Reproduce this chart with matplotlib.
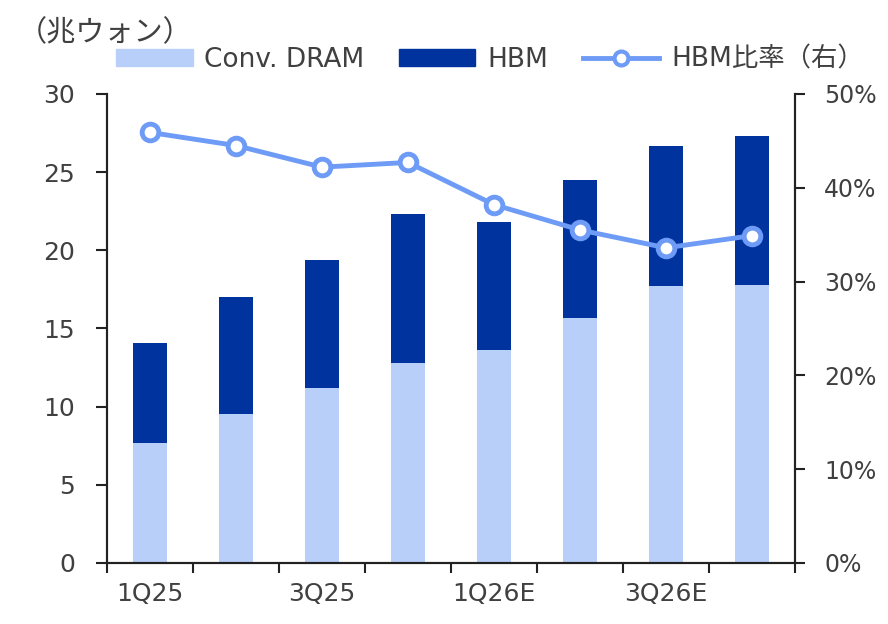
import numpy as np
import matplotlib.pyplot as plt
from matplotlib.lines import Line2D
from matplotlib.patches import Patch
from matplotlib.ticker import FuncFormatter

plt.rcParams['font.family'] = ['DejaVu Sans', 'Noto Sans CJK JP']

quarters = ['1Q25', '2Q25', '3Q25', '4Q25', '1Q26E', '2Q26E', '3Q26E', '4Q26E']
conv_dram = [7.7, 9.5, 11.2, 12.8, 13.6, 15.7, 17.7, 17.8]
hbm = [6.4, 7.5, 8.2, 9.5, 8.2, 8.8, 9.0, 9.5]
hbm_ratio = [45.9, 44.5, 42.2, 42.7, 38.2, 35.5, 33.6, 34.9]

c_conv = '#B8CFFA'
c_hbm = '#00339E'
c_line = '#6E9BF5'
c_text = '#404040'

fig = plt.figure(figsize=(8.88, 6.24), dpi=100)
ax = fig.add_axes([0.1205, 0.0978, 0.7748, 0.7516])
ax2 = ax.twinx()

x = np.arange(len(quarters))
ax.bar(x, conv_dram, width=0.4, color=c_conv, zorder=2)
ax.bar(x, hbm, width=0.4, bottom=conv_dram, color=c_hbm, zorder=2)

ax2.plot(x, hbm_ratio, color=c_line, lw=3.5, marker='o', ms=12,
         mfc='white', mec=c_line, mew=3.5, zorder=3)

ax.set_xlim(-0.5, len(quarters) - 0.5)
ax.set_ylim(0, 30)
ax2.set_ylim(0, 50)
ax.set_yticks(range(0, 31, 5))
ax2.set_yticks(range(0, 51, 10))
ax2.yaxis.set_major_formatter(FuncFormatter(lambda v, p: '%d%%' % v))

# x ticks at category boundaries, labels every other quarter
ax.set_xticks(np.arange(-0.5, len(quarters), 1.0))
ax.set_xticklabels([])
ax.set_xticks(x[::2], minor=True)
ax.set_xticklabels(quarters[::2], minor=True)
ax.tick_params(axis='x', which='major', length=7, width=1.5, direction='out', color='#222222')
ax.tick_params(axis='x', which='minor', length=0, pad=14, labelsize=18, labelcolor=c_text)

ax.tick_params(axis='y', length=8, width=1.5, direction='out', pad=15,
               labelsize=18, labelcolor=c_text, color='#222222')
ax2.tick_params(axis='y', length=7, width=1.5, direction='out', pad=14,
                labelsize=17, labelcolor=c_text, color='#222222')

for a in (ax, ax2):
    a.spines['top'].set_visible(False)
    for s in ('left', 'right', 'bottom'):
        a.spines[s].set_linewidth(1.5)
        a.spines[s].set_color('#222222')

fig.text(0.02, 0.946, '（兆ウォン）', fontsize=21, color=c_text, va='center', ha='left')

handles = [Patch(color=c_conv), Patch(color=c_hbm),
           Line2D([0], [0], color=c_line, lw=3.5, marker='o', ms=10,
                  mfc='white', mec=c_line, mew=3)]
labels = ['Conv. DRAM', 'HBM', 'HBM比率（右）']
fig.legend(handles, labels, loc='center left', bbox_to_anchor=(0.1306, 0.904),
           ncol=3, frameon=False, fontsize=19, handlelength=2.9, handleheight=0.57,
           columnspacing=1.3, handletextpad=0.45, borderpad=0, borderaxespad=0,
           labelcolor=c_text)

fig.savefig('out.png', dpi=100)
